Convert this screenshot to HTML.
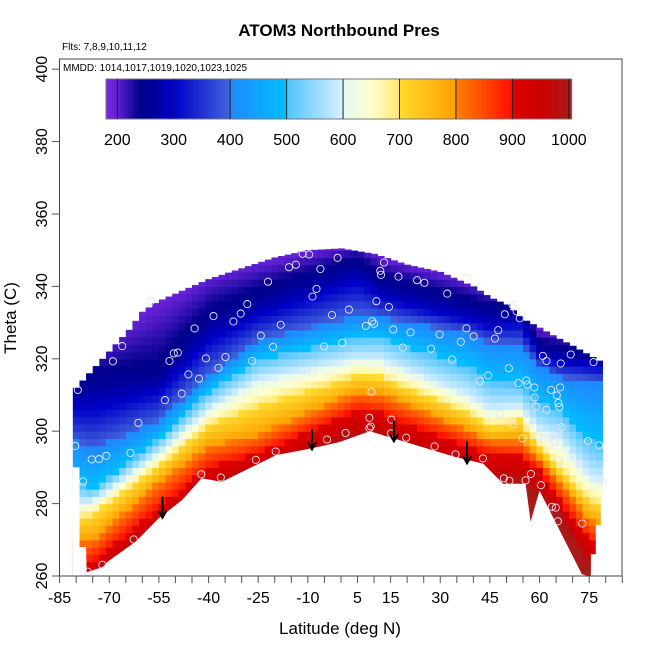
<!DOCTYPE html>
<html><head><meta charset="utf-8"><style>
html,body{margin:0;padding:0;background:#fff;}
svg{display:block;font-family:"Liberation Sans",Arial,sans-serif;}
</style></head><body>
<svg id="chart" width="650" height="650" viewBox="0 0 650 650">
<g id="cells"></g>
<polygon id="surface-mask" fill="#fff"/>
<g id="pts"></g>
<g id="arrows"></g>
<rect x="59.5" y="59" width="562.5" height="517" fill="none" stroke="#444" stroke-width="1"/>
<g id="cbar"></g>
<g id="xaxis"></g>
<g id="yaxis"></g>
<text x="339" y="36" text-anchor="middle" font-size="17" font-weight="bold">ATOM3 Northbound Pres</text>
<text x="62" y="50" font-size="10">Flts: 7,8,9,10,11,12</text>
<text x="63" y="71" font-size="10">MMDD: 1014,1017,1019,1020,1023,1025</text>
<text x="340" y="634" text-anchor="middle" font-size="17">Latitude (deg N)</text>
<text transform="translate(16,318) rotate(-90)" text-anchor="middle" font-size="17">Theta (C)</text>
</svg>
<script>
// ---- data ----
const nodeLats = [-80,-75,-55,-40,-25,5,12,39,45,54,60,66,75,79];
const pLevels = [1000,900,800,700,600,500,400,300,250,200];
const th1000 = [258,258,272,283,288,297,298,288,285,286,282,277,262,262];
const th900  = [264,264,279,290,294,306,305,295.7,294,293,289.3,281,270,268];
const th800  = [270,270,286,296,299,311,310.5,300.3,297.6,297.6,292.9,286.5,275.5,274];
const th700  = [276,277,290.5,301.7,307,315.5,315,305,301,303,295.7,289.3,281,280];
const th600  = [280,280.5,294,306,314,320,319.7,309.5,306,306.7,300.3,297.6,287.3,286];
const th500  = [286,284,298,311,320,326,326,317.7,314,313,307.8,305.9,297.6,296];
const th400  = [297,295,303,315.5,325,332,331.5,327,324.4,324,318,315,314,313];
const th300  = [306,306,311,325,332,341.6,337,330.7,329,330,321,319,318,318];
const th250  = [313,315,316,332,338,347,342,336,334,334,324,323,322,322];
const th200  = [320,322,334,342,346,352,348,341,339,338,328,327,326,326];
const topLats = [-81,-76,-72,-68,-64,-60,-55,-50,-40,-30,-20,-10,0,10,20,30,40,45,50,55,60,65,70,75,79];
const topTheta = [311,316,320,324,328,333,336,338,342,345,348,350,350.5,349,346,344,340,337,335,331,328.6,326,323.6,321,319];
const surfLats = [-81,-81,-79,-79,-77,-76.8,-72,-70.4,-62,-55.2,-48,-42.1,-36,-19.6,-8.7,-0.5,8.7,34,43,49,55.8,57.3,60,72.8,74.7,75.5,75.5,77,77,78.5,78.5,80,85,85];
const surfTheta = [260,290,290,268,268,261,262.5,264,269.5,275.8,281,287,286,293.4,295.3,297,300,293,291,285.5,285.5,275,283.6,260.5,260,260,266,266,274,274,282,282,282,260];
const ptLat = [-11.6,-9.6,-1.0,-15.7,-13.6,-6.2,-22.0,-7.4,-8.6,-28.3,-38.5,-30.3,-32.5,-2.7,-18.2,-44.2,-24.2,-66.1,-20.5,-5.1,-50.5,-49.3,-51.8,-68.9,-40.8,-34.9,-26.8,-37.0,-46.1,-42.9,-8.6,-48.1,-53.2,-79.5,-61.2,-80.3,-75.3,-73.1,-70.9,-63.6,-77.9,-4.2,-19.7,-25.7,-42.2,-36.3,-62.6,-72.1,-76.5,-57.4,
13.0,11.9,12.1,17.4,23.0,25.2,32.1,37.9,10.7,2.4,14.5,51.9,53.1,49.5,54.0,9.4,10.0,7.5,15.8,21.0,29.8,37.9,47.5,46.5,40.1,36.2,0.4,18.7,27.2,61.0,62.1,69.4,66.4,76.3,33.6,50.7,14.3,44.5,42.0,53.6,56.0,56.3,58.4,63.5,66.2,65.2,58.5,58.9,65.7,66.0,62.1,48.2,9.2,51.9,56.8,66.6,54.9,60.0,61.0,64.3,64.3,62.9,74.6,78.0,72.0,66.0,8.6,9.0,8.6,15.2,15.1,19.7,1.4,28.3,34.6,42.9,49.2,50.9,55.8,57.4,60.4,63.7,64.9,72.9,65.5,78.9];
const ptTheta = [349.0,348.8,347.9,345.3,346.0,344.8,341.3,339.3,337.2,335.1,331.8,332.5,330.3,332.1,329.4,328.4,326.4,323.5,323.3,323.4,321.5,321.7,319.4,319.3,320.1,320.5,319.4,317.5,315.7,314.5,316.2,310.4,308.6,311.4,302.3,295.9,292.2,292.3,293.2,294.0,286.1,297.7,294.4,292.1,288.1,287.2,270.1,263.1,261.2,336.0,
346.6,344.3,343.2,342.7,341.7,341.0,338.0,342.3,335.9,333.6,334.3,334.9,333.1,332.3,331.2,330.4,329.7,329.1,328.1,327.3,326.7,328.4,327.9,325.6,326.2,324.7,324.4,323.1,322.8,320.8,319.4,321.2,318.7,319.1,319.8,317.4,317.5,315.4,313.9,313.3,314.0,312.9,312.1,311.4,312.1,309.9,309.3,306.8,307.8,306.7,305.9,304.8,310.9,302.0,301.5,301.1,298.0,298.5,298.1,298.8,296.8,296.2,297.3,296.1,291.1,291.8,303.7,301.3,300.8,303.2,299.4,298.2,299.5,295.8,293.6,292.5,287.0,286.3,286.4,288.2,285.1,279.1,278.9,274.5,275.1,286.0];
const arrowLat = [-53.9,-8.75,16,38.1];
const arrowTop = [281.9,300.6,303,297.2];
const arrowBot = [276.1,295,297.2,291.1];
const xTicks = [-85,-70,-55,-40,-25,-10,5,15,30,45,60,75];
const yTicks = [260,280,300,320,340,360,380,400];
const cbTicks = [200,300,400,500,600,700,800,900,1000];
// ---- scales ----
const X = lat => 59.6 + (lat + 85) * 3.31;
const Y = th => 576 - (th - 260) * 3.62;
const CB = v => 117.3 + (v - 200) * 0.5644;
const NS = 'http://www.w3.org/2000/svg';
function mk(tag, attrs, parent){const e=document.createElementNS(NS,tag);for(const k in attrs)e.setAttribute(k,attrs[k]);parent.appendChild(e);return e;}
function interp(xs, ys, x){
  if (x <= xs[0]) return ys[0];
  for (let i=1;i<xs.length;i++){ if (x<=xs[i]){const t=(x-xs[i-1])/(xs[i]-xs[i-1]);return ys[i-1]+t*(ys[i]-ys[i-1]);} }
  return ys[ys.length-1];
}
const stops = [[180,[128,36,232]],[200,[96,32,210]],[240,[0,0,140]],[260,[0,0,150]],[300,[0,0,200]],[399,[64,100,220]],[400,[32,136,255]],[500,[0,192,255]],[501,[80,196,255]],[600,[216,240,255]],[601,[226,248,240]],[650,[255,255,208]],[699,[255,232,112]],[700,[255,220,48]],[799,[255,160,0]],[800,[255,128,0]],[899,[255,16,0]],[900,[222,0,0]],[950,[204,0,0]],[1000,[170,24,24]]];
function color(v){
  v=Math.max(180,Math.min(1000,v));
  for(let i=1;i<stops.length;i++){ if(v<=stops[i][0]){const a=stops[i-1],b=stops[i];const t=(v-a[0])/(b[0]-a[0]);const c=a[1].map((q,j)=>Math.round(q+t*(b[1][j]-q)));return 'rgb('+c.join(',')+')';} }
  return 'rgb(170,24,24)';
}
const thArrays=[th1000,th900,th800,th700,th600,th500,th400,th300,th250,th200];
function pressure(lat, th){
  const lv = thArrays.map(a=>interp(nodeLats,a,lat));
  if (th<=lv[0]) return 1000;
  for(let i=1;i<lv.length;i++){ if(th<=lv[i]){const t=(th-lv[i-1])/(lv[i]-lv[i-1]);return pLevels[i-1]+t*(pLevels[i]-pLevels[i-1]);} }
  return 200 - (th-lv[lv.length-1])*3;
}
// ---- heatmap ----
const cells=document.getElementById('cells');
for(let lat=-81; lat<79; lat+=2){
  const top=interp(topLats,topTheta,lat+1);
  for(let th=260; th<top; th+=2){
    const h=Math.min(2,top-th);
    const r=mk('rect',{x:X(lat).toFixed(2),y:(Y(th+h)).toFixed(2),width:(X(lat+2)-X(lat)+0.6).toFixed(2),height:(Y(th)-Y(th+h)+0.6).toFixed(2),fill:color(pressure(lat+1,th+1))},cells);
    
    
  }
}
// ---- surface mask ----
let pts=[];
for(let i=0;i<surfLats.length;i++) pts.push(X(surfLats[i]).toFixed(1)+','+Y(surfTheta[i]).toFixed(1));
pts.push(X(85)+','+Y(258)); pts.push(X(-81)+','+Y(258));
document.getElementById('surface-mask').setAttribute('points',pts.join(' '));
// ---- points ----
const pg=document.getElementById('pts');
for(let i=0;i<ptLat.length;i++){
  const c=mk('circle',{cx:X(ptLat[i]).toFixed(1),cy:Y(ptTheta[i]).toFixed(1),r:3.6,fill:'none',stroke:'#e8e8f4','stroke-width':0.9},pg);
  
  
}
// ---- arrows ----
const ag=document.getElementById('arrows');
for(let i=0;i<arrowLat.length;i++){
  const x=X(arrowLat[i]),y1=Y(arrowTop[i]),y2=Y(arrowBot[i]);
  const g=mk('g',{stroke:'#000','stroke-width':2,fill:'none'},ag);
  
  
  mk('line',{x1:x,y1:y1,x2:x,y2:y2},g);
  mk('polyline',{points:(x-4)+','+(y2-7)+' '+x+','+y2+' '+(x+4)+','+(y2-7)},g);
}
// ---- colorbar ----
const cb=document.getElementById('cbar');
for(let v=180; v<1005; v+=5){
  const r=mk('rect',{x:CB(v).toFixed(2),y:79,width:(CB(v+5)-CB(v)+0.4).toFixed(2),height:40,fill:color(v+2.5)},cb);
  
  
}
mk('rect',{x:CB(180),y:79,width:CB(1005)-CB(180),height:40,fill:'none',stroke:'#777','stroke-width':1},cb);
for(const v of cbTicks){
  mk('line',{x1:CB(v),y1:79,x2:CB(v),y2:119,stroke:'#222','stroke-width':1},cb);
  const t=mk('text',{x:CB(v),y:145,'text-anchor':'middle','font-size':16},cb);
  t.textContent=v;
  
  
}
// ---- axes ----
const xa=document.getElementById('xaxis');
for(let lat=-85; lat<=85; lat+=5) mk('line',{x1:X(lat),y1:576,x2:X(lat),y2:583,stroke:'#555','stroke-width':1},xa);
for(const v of xTicks){
  const t=mk('text',{x:X(v),y:603,'text-anchor':'middle','font-size':16},xa);
  t.textContent=v;
  
  
}
const ya=document.getElementById('yaxis');
for(const v of yTicks){
  mk('line',{x1:52,y1:Y(v),x2:59.5,y2:Y(v),stroke:'#555','stroke-width':1},ya);
  const t=mk('text',{transform:'translate(47,'+Y(v)+') rotate(-90)','text-anchor':'middle','font-size':16},ya);
  t.textContent=v;
  
  
}
</script>
</body></html>
